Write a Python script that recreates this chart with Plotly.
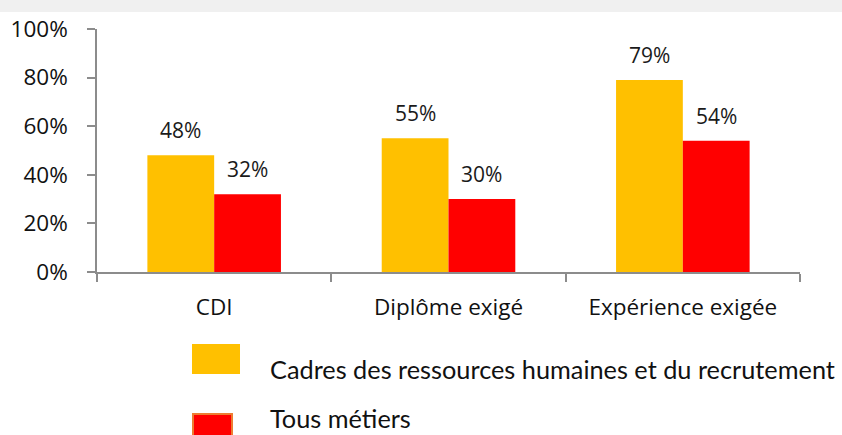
import plotly.graph_objects as go

categories = ["CDI", "Diplôme exigé", "Expérience exigée"]
series_names = ["Cadres des ressources humaines et du recrutement", "Tous métiers"]
cadres_rh = [0.48, 0.55, 0.79]
tous_metiers = [0.32, 0.30, 0.54]
y_ticks = [0, 0.2, 0.4, 0.6, 0.8, 1.0]
y_tick_labels = ["0%", "20%", "40%", "60%", "80%", "100%"]

colors = ["#FFC000", "#FF0000"]
W, H = 842, 435
ML, MR, MT, MB = 97, 42, 29, 163
PW, PH = W - ML - MR, H - MT - MB

label_font = dict(family="Open Sans, sans-serif", size=21, color="#1a1a1a")

fig = go.Figure()
for name, vals, col in zip(series_names, [cadres_rh, tous_metiers], colors):
    fig.add_trace(go.Bar(x=categories, y=vals, name=name, marker=dict(color=col, line=dict(width=0)),
                         showlegend=False))

# value labels above bars
bargap = 0.43
cat_w = PW / len(categories)
bar_w = cat_w * (1 - bargap) / 2
annotations = []
for i, vals in enumerate([cadres_rh, tous_metiers]):
    shift = (i - 0.5) * bar_w
    for c, v in zip(categories, vals):
        annotations.append(dict(x=c, y=v, xref="x", yref="y", text=f"{round(v*100)}%",
                                showarrow=False, xshift=shift, yshift=25, font=label_font,
                                xanchor="center", yanchor="middle"))

def py(p):
    return (H - MB - p) / PH

def px(p):
    return (p - ML) / PW

# manual legend
leg_rows = [(345, 373, 193, 239, 369), (414, 445, 193, 232, 417.5)]
shapes = [dict(type="rect", xref="paper", yref="paper", x0=px(-5), x1=px(W + 5), y0=py(12), y1=py(-5),
               fillcolor="#F0F0F0", line=dict(width=0), layer="below")]
for (y0, y1, x0, x1, yc), name, col, lc in zip(leg_rows, series_names, colors, ["#FFC000", "#ED7D31"]):
    shapes.append(dict(type="rect", xref="paper", yref="paper", x0=px(x0), x1=px(x1), y0=py(y1), y1=py(y0),
                       fillcolor=col, line=dict(width=2, color=lc)))
    annotations.append(dict(x=px(268), y=py(yc), xref="paper", yref="paper", text=name, showarrow=False,
                            xanchor="left", yanchor="middle",
                            font=dict(family="Lato, sans-serif", size=25.3, color="#111111")))

fig.update_layout(
    width=W, height=H,
    margin=dict(l=ML, r=MR, t=MT, b=MB, pad=0),
    paper_bgcolor="white", plot_bgcolor="white",
    barmode="group", bargap=bargap, bargroupgap=0,
    shapes=shapes, annotations=annotations,
    font=label_font,
)
fig.update_xaxes(showline=True, linecolor="#8C8C8C", linewidth=1.5, ticks="outside", tickson="boundaries",
                 ticklen=8, tickcolor="#8C8C8C", tickwidth=1.5, showgrid=False, zeroline=False,
                 tickfont=dict(family="Open Sans, sans-serif", size=22.5, color="#111111"), ticklabelstandoff=14)
fig.update_yaxes(range=[0, 1], tickvals=y_ticks, ticktext=y_tick_labels, showline=True, linecolor="#8C8C8C",
                 linewidth=1.5, ticks="outside", ticklen=8, tickcolor="#8C8C8C", tickwidth=1.5,
                 showgrid=False, zeroline=False,
                 tickfont=dict(family="Open Sans, sans-serif", size=22.5, color="#111111"), ticklabelstandoff=15)

fig.write_html("out.html", config={"displayModeBar": False},
               post_script="document.body.style.margin='0';document.body.style.overflow='hidden';")
